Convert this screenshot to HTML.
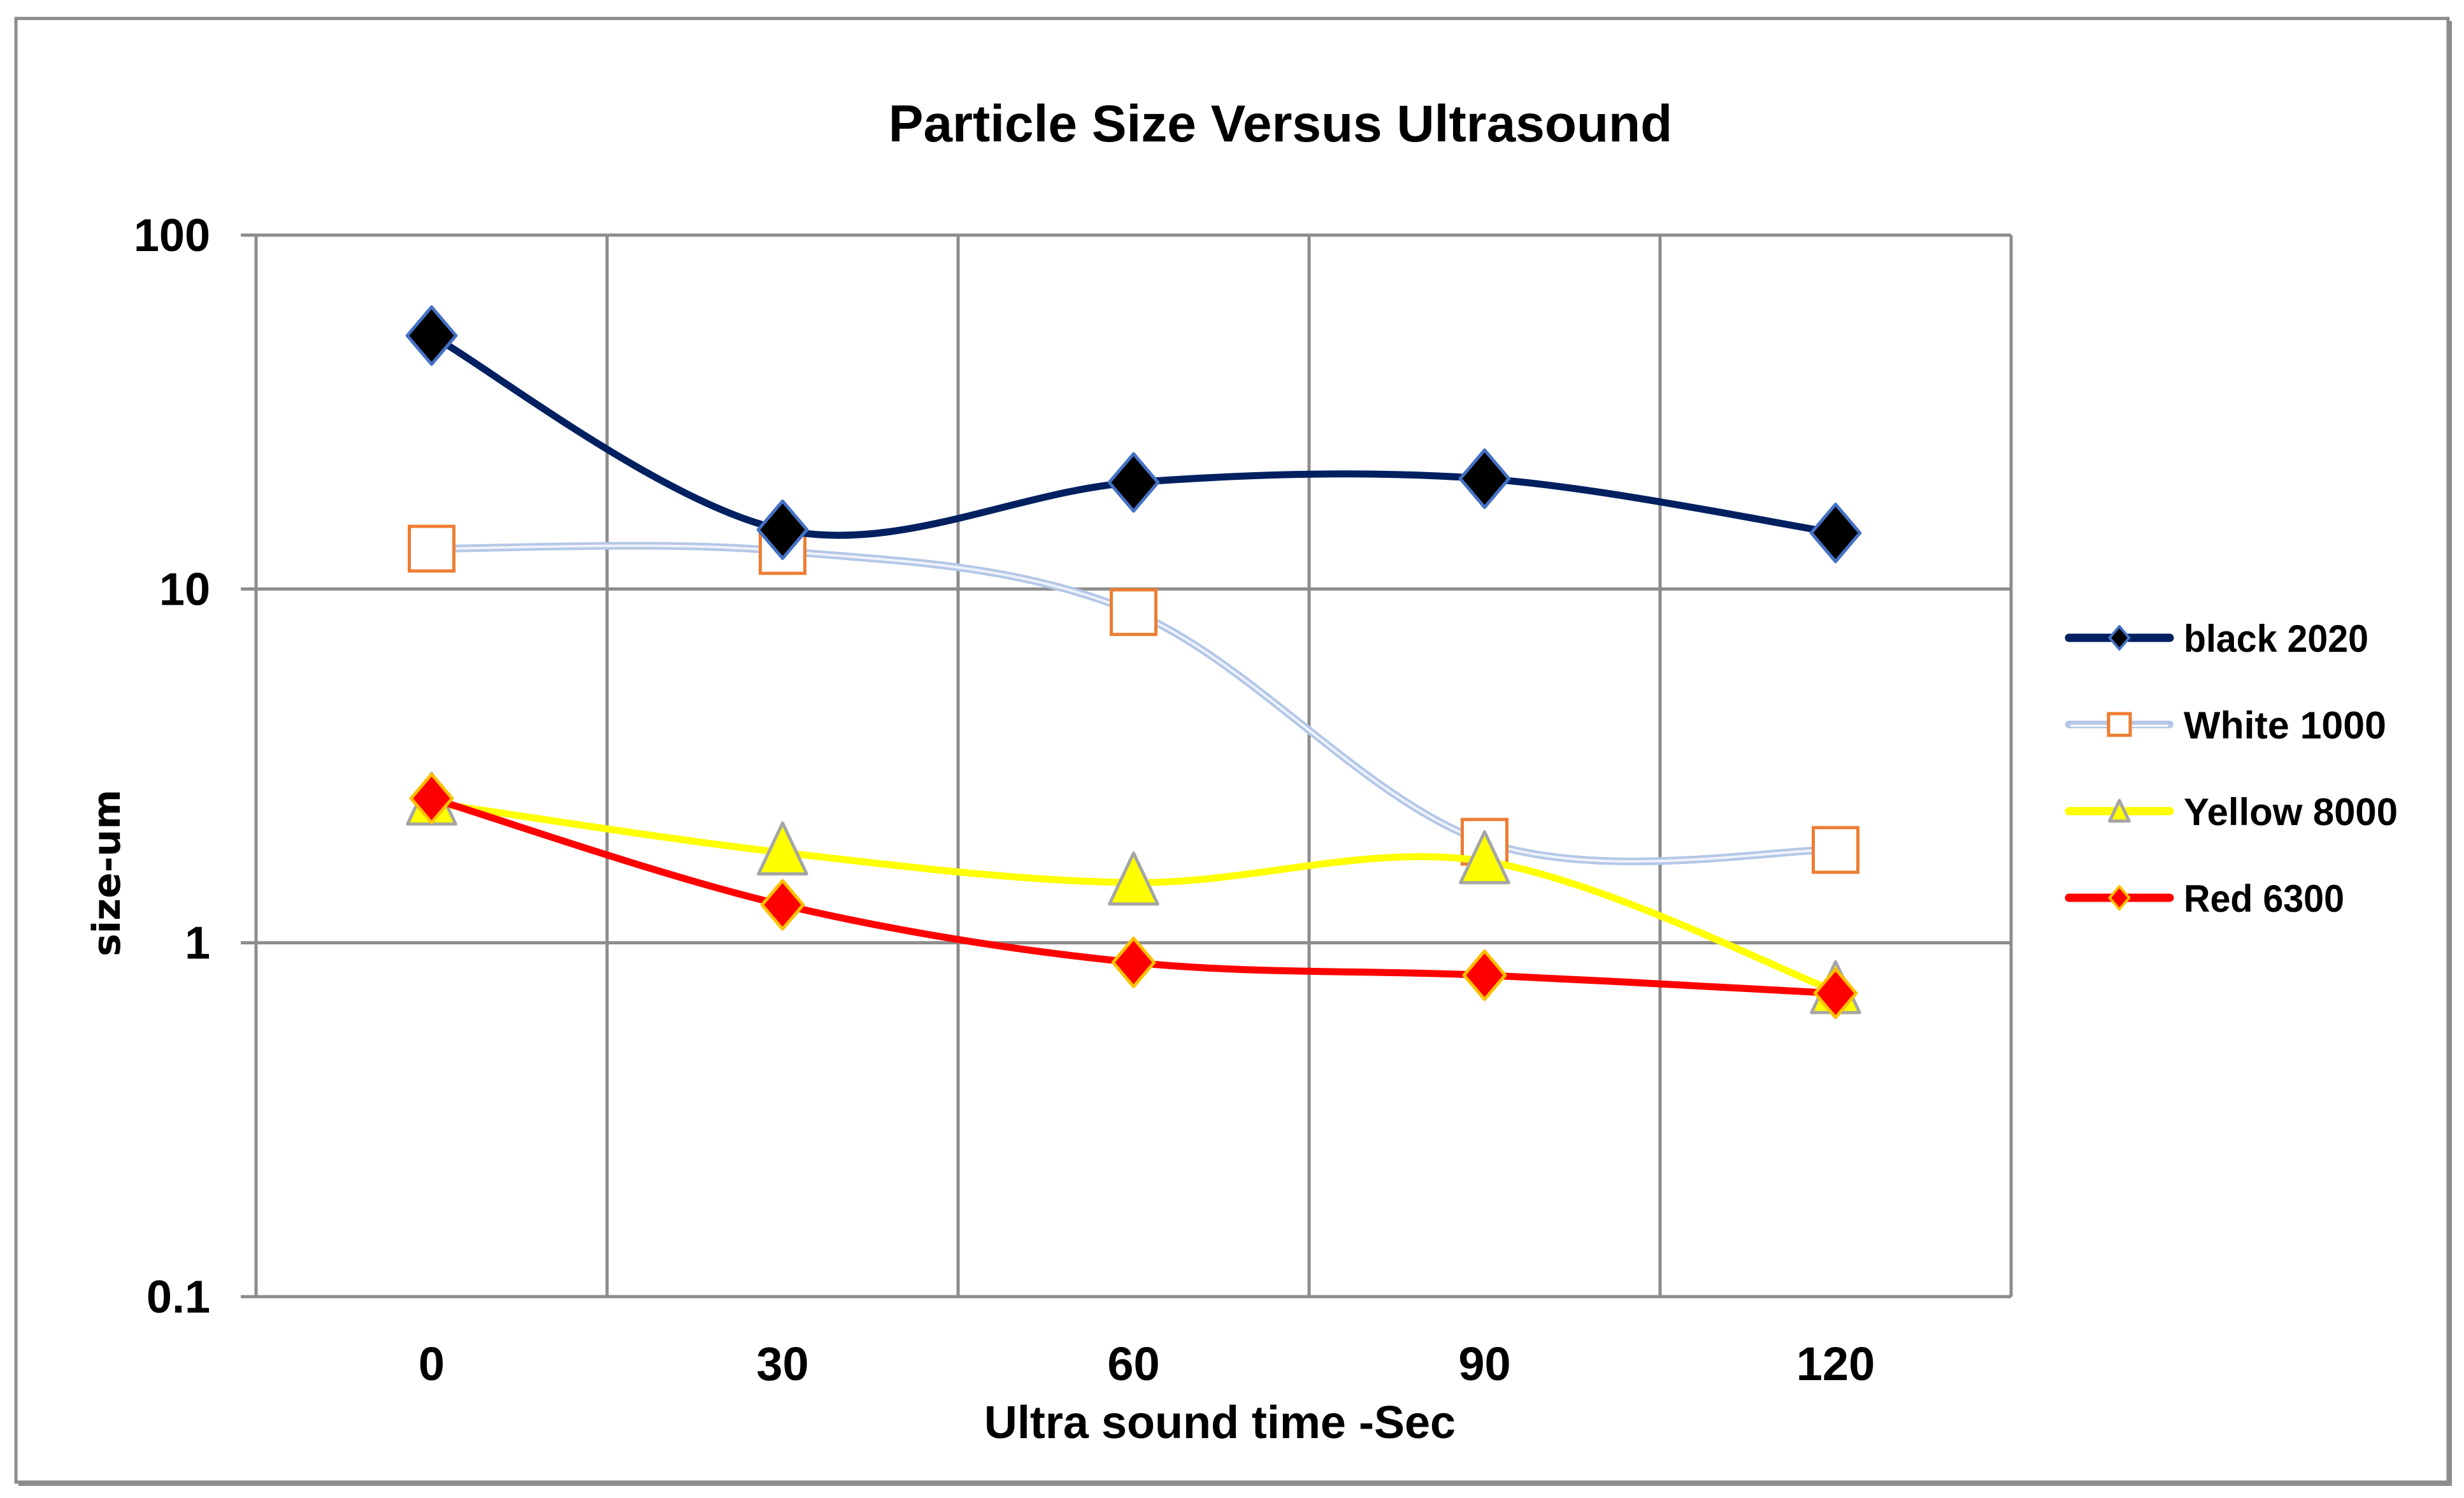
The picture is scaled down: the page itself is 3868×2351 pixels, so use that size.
<!DOCTYPE html>
<html><head><meta charset="utf-8"><style>
html,body{margin:0;padding:0;background:#fff}
svg{display:block}
text{font-family:"Liberation Sans",sans-serif;font-weight:bold;fill:#000}
</style></head><body>
<svg id="chart" width="3868" height="2351" viewBox="0 0 3868 2351" xmlns="http://www.w3.org/2000/svg">
<rect x="0" y="0" width="3868" height="2351" fill="#fff"/>
<rect x="29" y="33" width="3820" height="2299" fill="#8c8c8c"/>
<rect x="25" y="29" width="3818" height="2297" fill="#fff" stroke="#8c8c8c" stroke-width="5"/>
<text x="2010" y="222" font-size="82" text-anchor="middle">Particle Size Versus Ultrasound</text>
<g id="grid"></g>
<g id="axes"></g>
<g id="series"></g>
<g id="legend"></g>
<text x="1915" y="2257" font-size="72" text-anchor="middle">Ultra sound time -Sec</text>
<text transform="translate(188,1370) rotate(-90)" font-size="60" text-anchor="middle" style="font-family:'DejaVu Sans',sans-serif">size-um</text>
</svg>
<script>
const categories = ["0","30","60","90","120"];
const yTicks = [0.1, 1, 10, 100];
const yTickLabels = ["0.1","1","10","100"];
const black2020 = [52, 14.7, 20, 20.5, 14.4];
const white1000 = [13, 12.8, 8.6, 1.93, 1.83];
const yellow8000 = [2.49, 1.8, 1.48, 1.7, 0.73];
const red6300 = [2.56, 1.28, 0.88, 0.81, 0.72];
const seriesNames = ["black 2020","White 1000","Yellow 8000","Red 6300"];

const NS = "http://www.w3.org/2000/svg";
const L = 402, R = 3157, T = 369, B = 2035;
const yMin = 0.1, yMax = 100;
function xPos(i){ return L + (R - L) / categories.length * (i + 0.5); }
function yPos(v){ return B - (Math.log10(v) - Math.log10(yMin)) / (Math.log10(yMax) - Math.log10(yMin)) * (B - T); }
function mk(tag, attrs, parent){
  const e = document.createElementNS(NS, tag);
  for (const k in attrs) e.setAttribute(k, attrs[k]);
  parent.appendChild(e);
  return e;
}
const grid = document.getElementById('grid');
const axes = document.getElementById('axes');
const ser = document.getElementById('series');
const leg = document.getElementById('legend');

yTicks.forEach((v, i) => {
  const y = yPos(v);
  const ln = mk('line', {x1: L - 24, x2: R, y1: y, y2: y, stroke: '#8c8c8c', 'stroke-width': 5}, grid);
  
  
  const t = mk('text', {x: 330, y: y + 25, 'font-size': 72, 'text-anchor': 'end'}, axes);
  t.textContent = yTickLabels[i];
  
  
});
for (let i = 0; i <= categories.length; i++) {
  const x = L + (R - L) / categories.length * i;
  const ln = mk('line', {x1: x, x2: x, y1: T, y2: B, stroke: '#8c8c8c', 'stroke-width': 5}, grid);
  
  
}
categories.forEach((c, i) => {
  const t = mk('text', {x: xPos(i), y: 2166, 'font-size': 74, 'text-anchor': 'middle'}, axes);
  t.textContent = c;
  
  
});

function smoothPath(vals){
  const p = vals.map((v, i) => [xPos(i), yPos(v)]);
  let d = 'M' + p[0][0] + ',' + p[0][1];
  const t = 1 / 6;
  for (let i = 0; i < p.length - 1; i++) {
    const p0 = p[i - 1] || p[i], p1 = p[i], p2 = p[i + 1], p3 = p[i + 2] || p[i + 1];
    const c1 = [p1[0] + (p2[0] - p0[0]) * t, p1[1] + (p2[1] - p0[1]) * t];
    const c2 = [p2[0] - (p3[0] - p1[0]) * t, p2[1] - (p3[1] - p1[1]) * t];
    d += ' C' + c1 + ' ' + c2 + ' ' + p2;
  }
  return d;
}
function diamond(x, y, s, fill, stroke, sw, parent, name){
  const e = mk('polygon', {points: `${x},${y - s} ${x + s * 0.85},${y} ${x},${y + s} ${x - s * 0.85},${y}`, fill: fill, stroke: stroke, 'stroke-width': sw, 'stroke-linejoin': 'round'}, parent);
  
  
}
function square(x, y, s, parent, name){
  const e = mk('rect', {x: x - s, y: y - s, width: 2 * s, height: 2 * s, fill: '#fff', stroke: '#ed7d31', 'stroke-width': 5}, parent);
  
  
}
function tri(x, y, s, parent, name){
  const e = mk('polygon', {points: `${x},${y - s * 1.1} ${x + s * 0.9},${y + s * 0.8} ${x - s * 0.9},${y + s * 0.8}`, fill: '#ffff00', stroke: '#a5a5a5', 'stroke-width': 5, 'stroke-linejoin': 'round'}, parent);
  
  
}

let g = mk('g', {}, ser);


mk('path', {d: smoothPath(white1000), fill: 'none', stroke: '#b4c7e7', 'stroke-width': 12}, g);
mk('path', {d: smoothPath(white1000), fill: 'none', stroke: '#eef2fa', 'stroke-width': 4}, g);
let gy = mk('g', {}, ser);


mk('path', {d: smoothPath(yellow8000), fill: 'none', stroke: '#ffff00', 'stroke-width': 11}, gy);
let gr = mk('g', {}, ser);


mk('path', {d: smoothPath(red6300), fill: 'none', stroke: '#ff0000', 'stroke-width': 11}, gr);
let gb = mk('g', {}, ser);


mk('path', {d: smoothPath(black2020), fill: 'none', stroke: '#002060', 'stroke-width': 11}, gb);

white1000.forEach((v, i) => square(xPos(i), yPos(v), 35, g, 'white-marker'));
yellow8000.forEach((v, i) => tri(xPos(i), yPos(v), 42, gy, 'yellow-marker'));
red6300.forEach((v, i) => diamond(xPos(i), yPos(v), 38, '#ff0000', '#ffc000', 5, gr, 'red-marker'));
black2020.forEach((v, i) => diamond(xPos(i), yPos(v), 45, '#000', '#4472c4', 5, gb, 'black-marker'));

const legY = [1001, 1137, 1273, 1409];
const legW = [290, 318, 336, 252];
seriesNames.forEach((n, i) => {
  const eg = mk('g', {}, leg);
  
  
  const y = legY[i];
  if (i === 0) { mk('line', {x1: 3248, x2: 3406, y1: y, y2: y, stroke: '#002060', 'stroke-width': 13, 'stroke-linecap': 'round'}, eg); diamond(3327, y, 18, '#000', '#4472c4', 4, eg, 'legend-marker'); }
  if (i === 1) { mk('line', {x1: 3248, x2: 3406, y1: y, y2: y, stroke: '#b4c7e7', 'stroke-width': 12, 'stroke-linecap': 'round'}, eg); mk('line', {x1: 3250, x2: 3404, y1: y + 2, y2: y + 2, stroke: '#fff', 'stroke-width': 3}, eg); square(3327, y, 17, eg, 'legend-marker'); }
  if (i === 2) { mk('line', {x1: 3248, x2: 3406, y1: y, y2: y, stroke: '#ffff00', 'stroke-width': 13, 'stroke-linecap': 'round'}, eg); tri(3327, y + 2, 17, eg, 'legend-marker'); }
  if (i === 3) { mk('line', {x1: 3248, x2: 3406, y1: y, y2: y, stroke: '#ff0000', 'stroke-width': 13, 'stroke-linecap': 'round'}, eg); diamond(3327, y, 18, '#ff0000', '#ffc000', 4, eg, 'legend-marker'); }
  const t = mk('text', {x: 3428, y: y + 22, 'font-size': 60, textLength: legW[i], lengthAdjust: 'spacingAndGlyphs'}, eg);
  t.textContent = n;
  
  
});
</script>
</body></html>
